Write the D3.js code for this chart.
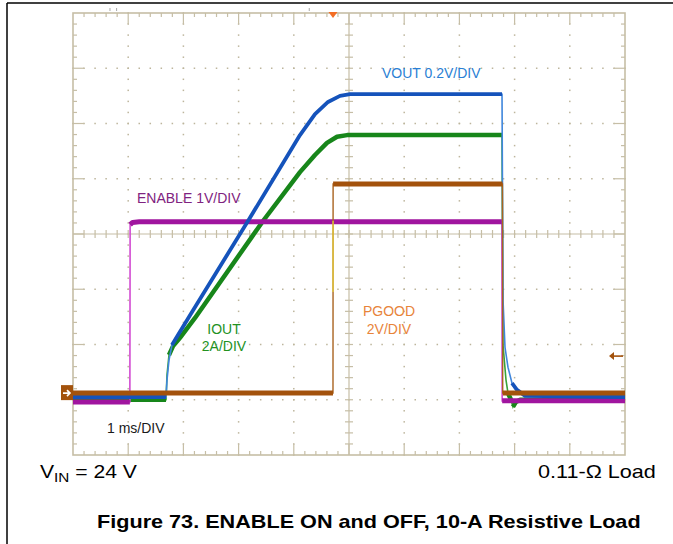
<!DOCTYPE html>
<html><head><meta charset="utf-8">
<script src="https://cdn.jsdelivr.net/npm/d3@7"></script>
<style>body{margin:0;background:#fff}svg{display:block}</style>
</head><body>
<svg id="c" width="673" height="544"></svg>
<script>
// ---- data (time in ms at 1 ms/div, value in screen divisions from graticule centre) ----
const timeDivs = d3.range(0, 10.001, 1);       // 10 horizontal divisions
const levelDivs = d3.range(-4, 4.001, 1);      // 8 vertical divisions

const enableData = [[0,-3.04],[1.03,-3.04],[1.035,0.17],[1.08,0.21],[1.2,0.22],[7.77,0.22],[7.775,-3.02],[10,-3.02]];
const pgoodData  = [[0,-2.88],[4.71,-2.88],[4.712,0.905],[7.78,0.905],[7.785,-2.88],[10,-2.88]];
const voutData   = [[0,-2.95],[1.685,-2.95],[1.703,-2.64],[1.739,-2.28],[1.793,-2.01],[1.902,-1.83],[2.12,-1.47],
                    [3.17,0.235],[4.112,1.79],[4.384,2.17],[4.62,2.39],[4.837,2.5],[5.018,2.53],[7.772,2.53],
                    [7.79,-1.19],[7.826,-2.05],[7.88,-2.41],[7.953,-2.7],[8.043,-2.82],[8.19,-2.93],[10,-2.95]];
const ioutData   = [[0,-3.0],[1.685,-3.0],[1.703,-2.55],[1.739,-2.19],[1.812,-2.03],[1.938,-1.88],[2.21,-1.52],
                    [3.442,0.235],[4.112,1.12],[4.384,1.43],[4.601,1.65],[4.783,1.76],[4.964,1.79],[7.772,1.79],
                    [7.79,-2.01],[7.844,-2.64],[7.88,-2.88],[7.935,-3.0],[7.971,-3.13],[8.025,-3.04],[8.1,-3.0],[10,-3.0]];
const pgoodEdgeHighlight = [[4.711,0.24],[4.711,-1.05]];
const triggerT = 4.71;
const groundMarkerV = -2.88;
const offsetArrowV = -2.21;
const topMarksT = [0.67, 0.79, 4.28];

const channelLabels = ["VOUT 0.2V/DIV", "ENABLE 1V/DIV", "IOUT", "2A/DIV", "PGOOD", "2V/DIV", "1 ms/DIV"];

// ---- drawing ----
const svg = d3.select('#c');
const x = d3.scaleLinear().domain([0,10]).range([73,625]);
const y = d3.scaleLinear().domain([-4,4]).range([455,13]);
const GRID = '#c6bea6', DOT = '#bdb59c';

// page frame lines
svg.append('line').attr('x1',7).attr('x2',7).attr('y1',3).attr('y2',544).attr('stroke','#000').attr('stroke-width',1.5);
svg.append('line').attr('x1',7).attr('x2',673).attr('y1',3).attr('y2',3).attr('stroke','#000').attr('stroke-width',1.5);

const g = svg.append('g');
const minorX = d3.range(0, 10.001, 0.2).map(v=>+v.toFixed(2));
const minorY = d3.range(-4, 4.001, 0.2).map(v=>+v.toFixed(2));
const isMajor = v => Math.abs(v - Math.round(v)) < 1e-6;

// dotted major lines
timeDivs.filter(t=>t>0 && t<10 && t!==5).forEach(t=>{
  g.selectAll(null).data(minorY).enter().append('rect')
    .attr('x', x(t)-0.75).attr('y', d=>y(d)-0.75).attr('width',1.5).attr('height',1.5).attr('fill',DOT);
});
levelDivs.filter(v=>v>-4 && v<4 && v!==0).forEach(v=>{
  g.selectAll(null).data(minorX).enter().append('rect')
    .attr('x', d=>x(d)-0.75).attr('y', y(v)-0.75).attr('width',1.5).attr('height',1.5).attr('fill',DOT);
});
// border
g.append('rect').attr('x',x(0)).attr('y',y(4)).attr('width',x(10)-x(0)).attr('height',y(-4)-y(4))
  .attr('fill','none').attr('stroke',GRID).attr('stroke-width',1.6);
// border ticks
minorX.filter(t=>t>0&&t<10).forEach(t=>{
  const L = isMajor(t)?11:4;
  g.append('line').attr('x1',x(t)).attr('x2',x(t)).attr('y1',y(4)).attr('y2',y(4)+L).attr('stroke',GRID).attr('stroke-width',1.2);
  g.append('line').attr('x1',x(t)).attr('x2',x(t)).attr('y1',y(-4)).attr('y2',y(-4)-L).attr('stroke',GRID).attr('stroke-width',1.2);
});
minorY.filter(v=>v>-4&&v<4).forEach(v=>{
  const L = isMajor(v)?11:4;
  g.append('line').attr('y1',y(v)).attr('y2',y(v)).attr('x1',x(0)).attr('x2',x(0)+L).attr('stroke',GRID).attr('stroke-width',1.2);
  g.append('line').attr('y1',y(v)).attr('y2',y(v)).attr('x1',x(10)).attr('x2',x(10)-L).attr('stroke',GRID).attr('stroke-width',1.2);
});
// centre cross with ticks
g.append('line').attr('x1',x(5)).attr('x2',x(5)).attr('y1',y(4)).attr('y2',y(-4)).attr('stroke',GRID).attr('stroke-width',1.2);
g.append('line').attr('x1',x(0)).attr('x2',x(10)).attr('y1',y(0)).attr('y2',y(0)).attr('stroke',GRID).attr('stroke-width',1.2);
minorX.filter(t=>t>0&&t<10).forEach(t=>{
  g.append('line').attr('x1',x(t)).attr('x2',x(t)).attr('y1',y(0)-4).attr('y2',y(0)+4).attr('stroke',GRID).attr('stroke-width',1.2);
});
minorY.filter(v=>v>-4&&v<4).forEach(v=>{
  g.append('line').attr('y1',y(v)).attr('y2',y(v)).attr('x1',x(5)-4).attr('x2',x(5)+4).attr('stroke',GRID).attr('stroke-width',1.2);
});
// tiny marks above graticule
topMarksT.forEach(t=>{
  svg.append('line').attr('x1',x(t)).attr('x2',x(t)).attr('y1',8).attr('y2',11).attr('stroke','#a8a8a8').attr('stroke-width',1);
});

// labels (drawn under traces)
const font = '"Liberation Sans", Arial, Helvetica, sans-serif';
function lab(txt, px, py, color, anchor){
  svg.append('text').attr('x',px).attr('y',py).attr('fill',color).attr('font-family',font)
    .attr('font-size',14).attr('text-anchor',anchor||'start').text(txt);
}
lab(channelLabels[0], 382, 78, '#2b7fd4');
lab(channelLabels[1], 137, 203, '#7f2380');
lab(channelLabels[2], 224, 334, '#23921f', 'middle');
lab(channelLabels[3], 224, 351, '#23921f', 'middle');
lab(channelLabels[4], 389, 316, '#e8843a', 'middle');
lab(channelLabels[5], 389, 334, '#e8843a', 'middle');
lab(channelLabels[6], 107, 433, '#1a1a1a');

// traces
const line = d3.line().x(d=>x(d[0])).y(d=>y(d[1]));
function trace(data, color, thin, wThick, wThin){
  const tg = svg.append('g');
  tg.append('path').attr('d', line(data)).attr('fill','none').attr('stroke',thin).attr('stroke-width',wThin);
  const segs = []; let seg = [data[0]];
  for (let i=1;i<data.length;i++){
    const dx = Math.abs(x(data[i][0])-x(data[i-1][0]));
    const dy = Math.abs(y(data[i][1])-y(data[i-1][1]));
    if (dy <= 3.5*dx) seg.push(data[i]);
    else { if (seg.length>1) segs.push(seg); seg=[data[i]]; }
  }
  if (seg.length>1) segs.push(seg);
  segs.forEach(s=> tg.append('path').attr('d', line(s)).attr('fill','none').attr('stroke',color)
      .attr('stroke-width',wThick).attr('stroke-linejoin','round'));
}
trace(ioutData,   '#17861a', '#3aa23a', 4.5, 1.6);
trace(enableData, '#a0159f', '#d24ad2', 5,   1.6);
trace(voutData,   '#1553bb', '#3f86dc', 3.8, 1.6);
trace(pgoodData,  '#a3520c', '#a9631f', 5,   1.4);
svg.append('path').attr('d', line(pgoodEdgeHighlight)).attr('stroke','#e6cf3c').attr('stroke-width',1.3).attr('fill','none');

// trigger marker
const tx = x(triggerT);
svg.append('path').attr('d',`M${tx-4.5},12 L${tx+4.5},12 L${tx},18 Z`).attr('fill','#f36d24');

// ground marker (left)
const gy = y(groundMarkerV);
svg.append('rect').attr('x',61).attr('y',gy-8).attr('width',12).attr('height',15).attr('fill','#a3520c');
svg.append('path').attr('d',`M63,${gy} L70,${gy} M67,${gy-3} L70,${gy} L67,${gy+3}`).attr('stroke','#fff').attr('stroke-width',1.6).attr('fill','none');
// offset arrow (right)
const ay = y(offsetArrowV);
svg.append('line').attr('x1',x(10)-14).attr('x2',x(10)-2).attr('y1',ay).attr('y2',ay).attr('stroke','#a3520c').attr('stroke-width',1.6);
svg.append('path').attr('d',`M${x(10)-16},${ay} L${x(10)-11},${ay-4} L${x(10)-11},${ay+4} Z`).attr('fill','#a3520c');

// bottom texts, fitted to their measured widths
function fit(sel, x0, x1){
  const bb = sel.node().getBBox();
  const s = (x1-x0)/bb.width;
  sel.attr('transform', `translate(${x0},0) scale(${s},1) translate(${-bb.x},0)`);
}
const vin = svg.append('text').attr('y',478).attr('font-family',font).attr('font-size',18).attr('fill','#000');
vin.append('tspan').text('V');
vin.append('tspan').attr('font-size',13).attr('dy',4).text('IN');
vin.append('tspan').attr('dy',-4).text(' = 24 V');
fit(vin, 40, 137);
const load = svg.append('text').attr('y',478).attr('font-family',font).attr('font-size',18).attr('fill','#000').text('0.11-\u03A9 Load');
fit(load, 538, 656);
const cap = svg.append('text').attr('y',528).attr('font-family',font).attr('font-size',18).attr('font-weight','bold').attr('fill','#000')
  .text('Figure 73. ENABLE ON and OFF, 10-A Resistive Load');
fit(cap, 97, 641);
</script>
</body></html>
